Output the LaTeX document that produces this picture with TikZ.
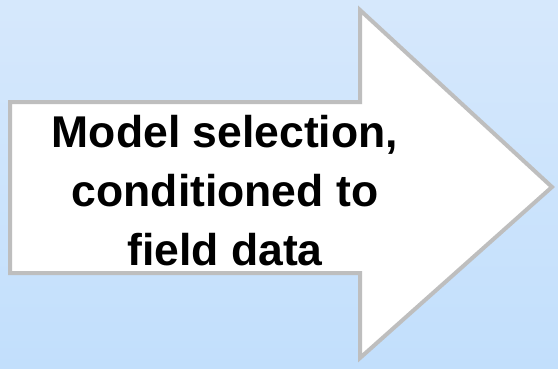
\documentclass[tikz,border=0pt]{standalone}
\usepackage{fontspec}
\setmainfont{Liberation Sans}
\usepackage{xcolor}

\definecolor{bgtop}{RGB}{214,232,252}
\definecolor{bgbot}{RGB}{194,223,252}
\definecolor{edge}{RGB}{190,190,190}

\begin{document}
\begin{tikzpicture}[x=1pt,y=-1pt]

 % le fond en degrade
 \shade[top color=bgtop, bottom color=bgbot] (0,0) rectangle (558,368);
 \useasboundingbox (0,0) rectangle (558,368);

 % la grosse fleche
 \draw[draw=edge, line width=4pt, fill=white, line join=miter]
   (10,102) -- (360,102) -- (360,10) -- (552,187) -- (360,358) -- (360,273) -- (10,273) -- cycle;

 \node[align=center, font=\bfseries\fontsize{44.5}{59}\selectfont] (txt) at (225,191)
   {Model selection,\\conditioned to\\field data};
\end{tikzpicture}
\end{document}
